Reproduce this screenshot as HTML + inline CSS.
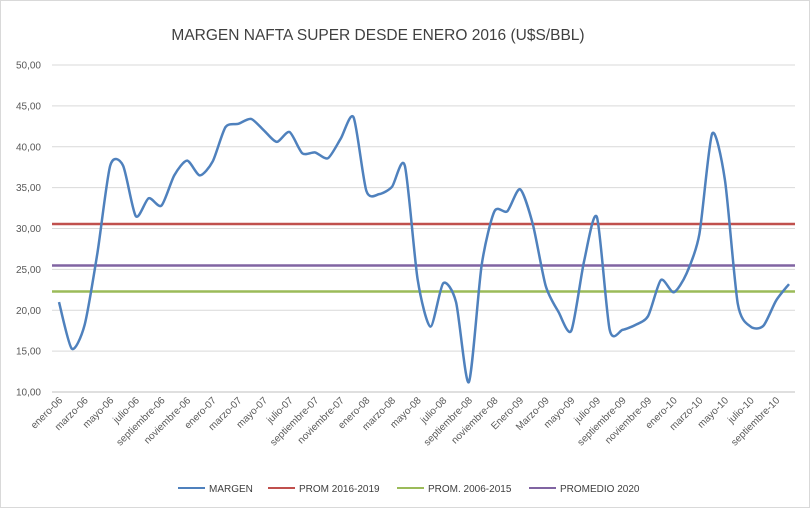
<!DOCTYPE html>
<html><head><meta charset="utf-8"><style>
html,body{margin:0;padding:0;background:#fff}
svg{display:block;font-family:"Liberation Sans",sans-serif}
</style></head><body>
<svg id="s" width="810" height="508" viewBox="0 0 810 508">
<rect x="0.5" y="0.5" width="809" height="507" fill="#fff" stroke="#d9d9d9"/>
<text x="378" y="40" font-size="15.5" fill="#404040" text-anchor="middle">MARGEN NAFTA SUPER DESDE ENERO 2016 (U$S/BBL)</text>
<g id="grid"></g>
<line x1="52" y1="224" x2="795" y2="224" stroke="#c0504d" stroke-width="2.5"/>
<line x1="52" y1="265.5" x2="795" y2="265.5" stroke="#8064a2" stroke-width="2.5"/>
<line x1="52" y1="291.5" x2="795" y2="291.5" stroke="#9bbb59" stroke-width="2.5"/>
<path id="p" fill="none" stroke="#4f81bd" stroke-width="2.5" stroke-linejoin="round"/>
<g id="xl" font-size="10" fill="#595959"></g>
<g font-size="10" fill="#404040">
<line x1="178" y1="488" x2="205" y2="488" stroke="#4f81bd" stroke-width="2"/><text x="209" y="492">MARGEN</text>
<line x1="268" y1="488" x2="295" y2="488" stroke="#c0504d" stroke-width="2"/><text x="299" y="492">PROM 2016-2019</text>
<line x1="397" y1="488" x2="424" y2="488" stroke="#9bbb59" stroke-width="2"/><text x="428" y="492">PROM. 2006-2015</text>
<line x1="529" y1="488" x2="556" y2="488" stroke="#8064a2" stroke-width="2"/><text x="560" y="492">PROMEDIO 2020</text>
</g>
</svg>
<script>
var y=v=>392-(v-10)*(327/40);
var g='';
for(var v=10;v<=50;v+=5){var yy=y(v);g+='<line x1="52" y1="'+yy+'" x2="795" y2="'+yy+'" stroke="'+(v==10?'#bfbfbf':'#d9d9d9')+'" stroke-width="1"/>';
g+='<text x="41" y="'+(yy+3.5)+'" font-size="10" fill="#595959" text-anchor="end">'+v+',00</text>';}
document.getElementById('grid').innerHTML=g;
var d=[21,15.3,18.2,27,37.7,37.7,31.5,33.7,32.8,36.5,38.3,36.5,38.2,42.4,42.8,43.4,42,40.6,41.8,39.2,39.3,38.6,41,43.6,34.6,34.2,35.1,37.7,23.8,18,23.3,21,11.2,25.5,32.1,32.1,34.8,30.5,23,19.8,17.5,26,31.4,17.6,17.6,18.2,19.3,23.7,22.2,24.5,29.3,41.6,35.9,20.8,18,18.1,21.2,23.2];
var dx=730/57,P=d.map((v,i)=>[59+i*dx,y(v)]);
var t=8;
var s='M'+P[0][0]+','+P[0][1];
for(var i=0;i<P.length-1;i++){var p0=P[Math.max(i-1,0)],p1=P[i],p2=P[i+1],p3=P[Math.min(i+2,P.length-1)];
s+=' C'+(p1[0]+(p2[0]-p0[0])/t)+','+(p1[1]+(p2[1]-p0[1])/t)+' '+(p2[0]-(p3[0]-p1[0])/t)+','+(p2[1]-(p3[1]-p1[1])/t)+' '+p2[0]+','+p2[1];}
document.getElementById('p').setAttribute('d',s);
var m=['enero','marzo','mayo','julio','septiembre','noviembre'];var L=[];
for(var yr=6;yr<=10;yr++)for(var k=0;k<6;k++){var n=m[k];if(yr==9&&k<2)n=n[0].toUpperCase()+n.slice(1);L.push(n+'-'+(yr<10?'0':'')+yr);}
var h='';for(var i=0;i<29;i++){var x=59+i*2*dx+4;h+='<text transform="translate('+x+',401) rotate(-45)" text-anchor="end">'+L[i]+'</text>';}
document.getElementById('xl').innerHTML=h;
</script>
</body></html>
